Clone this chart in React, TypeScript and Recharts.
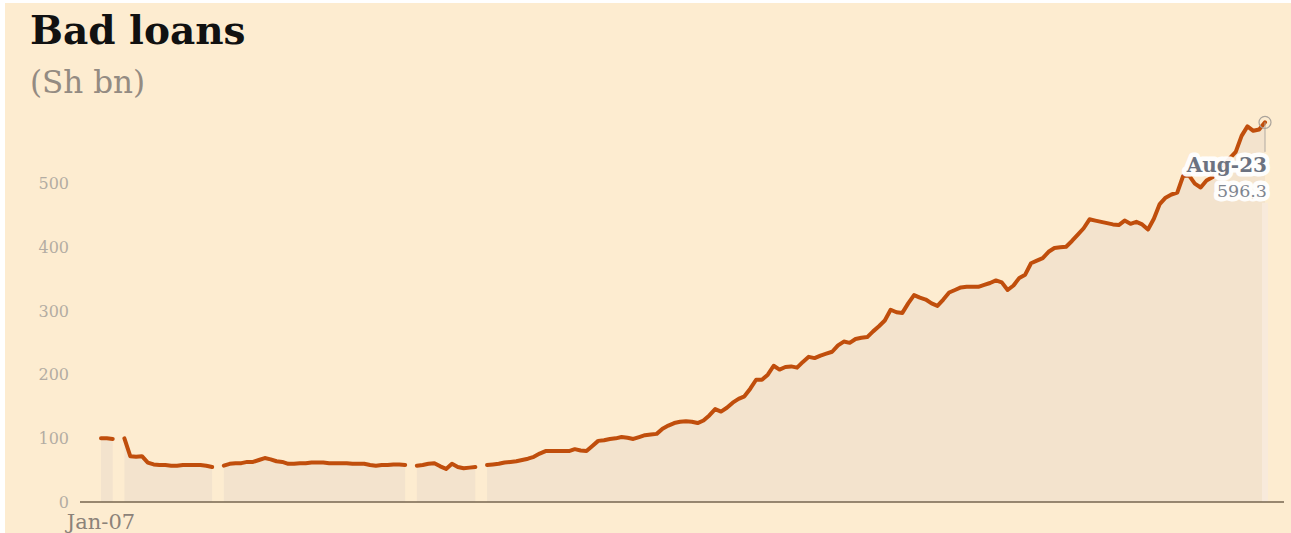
import React from 'react';
import { AreaChart, Area, XAxis, YAxis, ReferenceDot, ReferenceLine } from 'recharts';

// Monthly bad loans, Sh bn, Jan-07 .. Aug-23 (null = missing month)
const monthNames = ['Jan', 'Feb', 'Mar', 'Apr', 'May', 'Jun', 'Jul', 'Aug', 'Sep', 'Oct', 'Nov', 'Dec'];
const firstYear = 2007;

const badLoans: (number | null)[] = [
  100, 100, 99, null, 100, 72, 71, 72, 62, 59,
  58, 58, 57, 57, 58, 58, 58, 58, 57, 55,
  null, 57, 60, 61, 61, 63, 63, 66, 69, 67,
  64, 63, 60, 60, 61, 61, 62, 62, 62, 61,
  61, 61, 61, 60, 60, 60, 58, 57, 58, 58,
  59, 59, 58, null, 57, 58, 60, 61, 56, 52,
  60, 55, 53, 54, 55, null, 58, 59, 60, 62,
  63, 64, 66, 68, 71, 76, 80, 80, 80, 80,
  80, 83, 81, 80, 88, 96, 97, 99, 100, 102,
  101, 99, 102, 105, 106, 107, 115, 120, 124, 126,
  127, 126, 124, 128, 136, 146, 142, 148, 156, 162,
  166, 178, 192, 192, 200, 214, 208, 212, 213, 211,
  220, 228, 226, 230, 233, 236, 246, 252, 250, 256,
  258, 259, 268, 276, 285, 302, 298, 297, 312, 325,
  321, 318, 312, 308, 318, 329, 333, 337, 338, 338,
  338, 341, 344, 348, 345, 333, 340, 352, 357, 375,
  379, 383, 393, 399, 400, 401, 410, 420, 430, 444,
  442, 440, 438, 436, 435, 442, 437, 440, 436, 428,
  445, 468, 478, 483, 486, 512, 513, 500, 494, 505,
  510, 520, 530, 540, 550, 575, 590, 583, 585, 596.3,
];

const yTicks = [0, 100, 200, 300, 400, 500];
const xTicks = ['Jan-07'];
const lastLabel = 'Aug-23';
const lastValue = 596.3;

const months = badLoans.map((_, i) => {
  const yy = (firstYear + Math.floor(i / 12)) % 100;
  return `${monthNames[i % 12]}-${String(yy).padStart(2, '0')}`;
});

const chartData = months.map((month, i) => ({ month, value: badLoans[i] }));

const SERIF = '"DejaVu Serif", "Liberation Serif", serif';

const EndLabel = (props: any) => {
  const vb = props.viewBox || {};
  const cx = vb.x + vb.width / 2;
  const cy = vb.y + vb.height / 2;
  const halo = { stroke: '#ffffff', strokeWidth: 9, strokeOpacity: 0.95, paintOrder: 'stroke' as const, strokeLinejoin: 'round' as const };
  return (
    <g fontFamily={SERIF} textAnchor="end">
      <text x={cx + 2} y={cy + 50} fontSize={20} fontWeight="bold" fill="#6c7280" {...halo}>
        {lastLabel}
      </text>
      <text x={cx + 2} y={cy + 75} fontSize={17.5} fill="#7e8590" {...halo}>
        {lastValue}
      </text>
    </g>
  );
};

export default function App() {
  return (
    <div style={{ position: 'relative', width: 1291, height: 533, background: '#ffffff', overflow: 'hidden' }}>
      <style>{'body{margin:0}'}</style>
      <div style={{ position: 'absolute', left: 5, top: 3, width: 1286, height: 530, background: '#fdecd0' }} />
      <div
        style={{
          position: 'absolute', left: 30, top: 11, fontFamily: SERIF, fontSize: 39,
          fontWeight: 'bold', lineHeight: 1, color: '#111111', whiteSpace: 'nowrap',
        }}
      >
        Bad loans
      </div>
      <div
        style={{
          position: 'absolute', left: 30, top: 67, fontFamily: SERIF, fontSize: 31,
          lineHeight: 1, color: '#948b82', whiteSpace: 'nowrap',
        }}
      >
        (Sh bn)
      </div>
      <div style={{ position: 'absolute', left: 0, top: 0 }}>
        <AreaChart width={1291} height={533} data={chartData} margin={{ top: 120, right: 7, bottom: 0, left: 0 }}>
          <XAxis
            dataKey="month"
            ticks={xTicks}
            interval={0}
            padding={{ left: 21, right: 19 }}
            height={31}
            tickLine={false}
            tickMargin={6}
            axisLine={{ stroke: '#76664f', strokeWidth: 1.5 }}
            tick={{ fill: '#8c8279', fontSize: 21, fontFamily: SERIF }}
          />
          <YAxis
            domain={[0, 600]}
            ticks={yTicks}
            width={80}
            axisLine={false}
            tickLine={false}
            tickMargin={5}
            tick={{ fill: '#b3aca3', fontSize: 16, fontFamily: SERIF }}
          />
          <Area
            type="linear"
            dataKey="value"
            stroke="#c04e0c"
            strokeWidth={4}
            strokeLinejoin="round"
            strokeLinecap="round"
            fill="#f3e3cd"
            fillOpacity={1}
            connectNulls={false}
            dot={false}
            activeDot={false}
            isAnimationActive={false}
          />
          <ReferenceLine
            segment={[{ x: lastLabel, y: 470 }, { x: lastLabel, y: 0 }]}
            stroke="#f8eadb"
            strokeWidth={6}
          />
          <ReferenceLine
            segment={[{ x: lastLabel, y: lastValue }, { x: lastLabel, y: 550 }]}
            stroke="#b0a9a1"
            strokeWidth={1}
          />
          <ReferenceDot
            x={lastLabel}
            y={lastValue}
            r={6}
            fill="none"
            stroke="#aaa39b"
            strokeWidth={1.2}
            label={<EndLabel />}
          />
        </AreaChart>
      </div>
    </div>
  );
}
